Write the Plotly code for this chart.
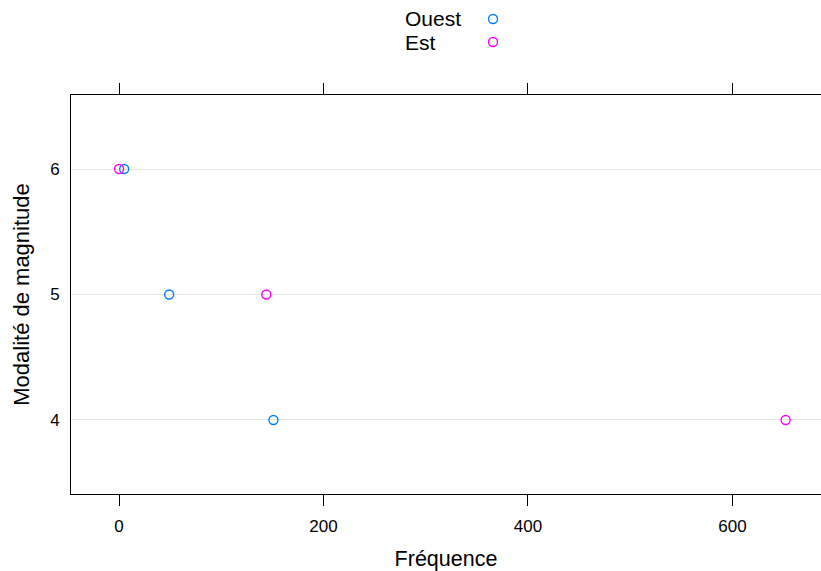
import plotly.graph_objects as go

magnitudes = [4, 5, 6]
ouest = [151, 49, 5]
est = [652, 144, 0]
series_names = ["Ouest", "Est"]
colors = ["#0080ff", "#ff00ff"]
x_ticks = [0, 200, 400, 600]
y_ticks = [4, 5, 6]

fig = go.Figure()
for name, vals, col in zip(series_names, [ouest, est], colors):
    fig.add_trace(go.Scatter(
        x=vals, y=magnitudes, mode="markers", name=name,
        marker=dict(symbol="circle-open", size=9, color=col, line=dict(width=1.4, color=col)),
        showlegend=False))

font = "Liberation Sans, Arial, sans-serif"
fig.update_layout(
    width=821, height=571,
    margin=dict(l=71, r=0, t=95, b=77),
    paper_bgcolor="white", plot_bgcolor="white",
    font=dict(family=font, size=17, color="black"),
    xaxis=dict(range=[-47, 686.6], tickvals=x_ticks, showgrid=False, zeroline=False,
               showline=True, linecolor="black", linewidth=1, mirror="ticks",
               ticks="outside", ticklen=11, tickcolor="black", ticklabelstandoff=6,
               tickfont=dict(size=17),
               title=dict(text="Fréquence", font=dict(size=21.5), standoff=19)),
    yaxis=dict(range=[3.41, 6.59], tickvals=y_ticks, showgrid=True, gridcolor="#e6e6e6",
               zeroline=False, showline=True, linecolor="black", linewidth=1,
               ticks="", ticklabelstandoff=7, tickfont=dict(size=17),
               title=dict(text="Modalité de magnitude", font=dict(size=22), standoff=14)),
)

leg_y = [1.1905, 1.1328]
for name, col, yy in zip(series_names, colors, leg_y):
    fig.add_annotation(x=0.4425, y=yy, xref="paper", yref="paper", text=name,
                       showarrow=False, xanchor="left", yanchor="middle",
                       font=dict(size=21, family=font))
    fig.add_shape(type="circle", xref="paper", yref="paper", xsizemode="pixel", ysizemode="pixel",
                  xanchor=0.5627, yanchor=yy, x0=-4.5, x1=4.5, y0=-4.5, y1=4.5,
                  line=dict(color=col, width=1.4))

fig.write_html("out.html", config={"displayModeBar": False},
               post_script="document.body.style.margin='0px';")
